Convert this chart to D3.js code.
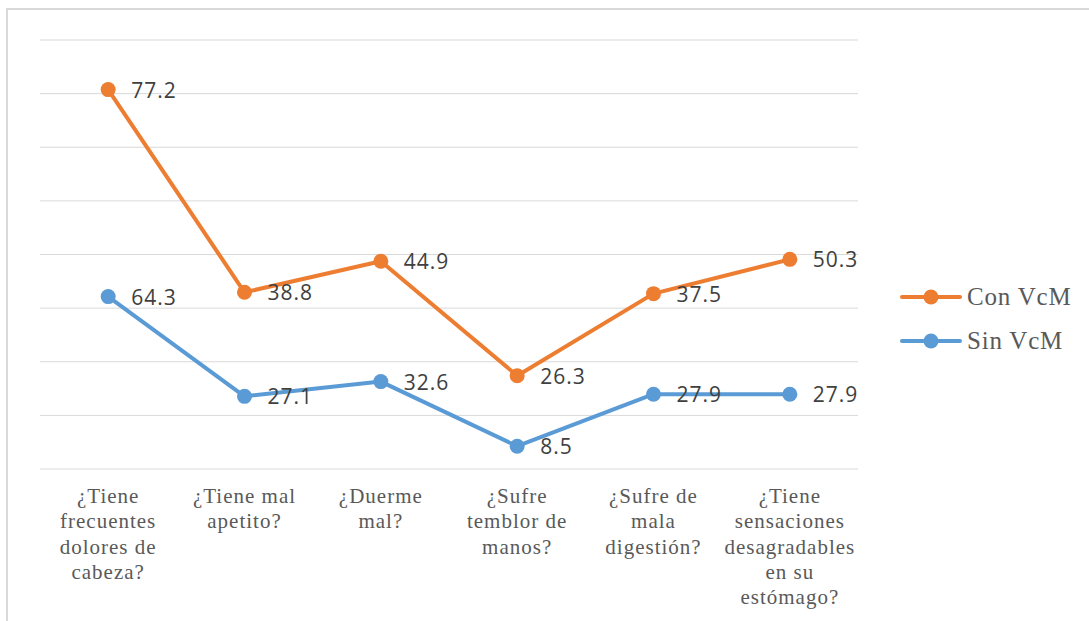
<!DOCTYPE html>
<html><head><meta charset="utf-8">
<script src="https://cdn.jsdelivr.net/npm/d3@7"></script>
<style>body{margin:0;background:#fff;}svg{display:block;}</style>
</head><body>
<script>
const categories = [
  ["¿Tiene","frecuentes","dolores de","cabeza?"],
  ["¿Tiene mal","apetito?"],
  ["¿Duerme","mal?"],
  ["¿Sufre","temblor de","manos?"],
  ["¿Sufre de","mala","digestión?"],
  ["¿Tiene","sensaciones","desagradables","en su","estómago?"]
];
const seriesNames = ["Con VcM","Sin VcM"];
const conVcM = [77.2, 38.8, 44.9, 26.3, 37.5, 50.3];
const sinVcM = [64.3, 27.1, 32.6, 8.5, 27.9, 27.9];
const yTicks = [0,20,40,60,80,100,120,140,160];
const colors = ["#ED7D31","#5B9BD5"];

const W=1089,H=621;
const SERIF="Liberation Serif, serif";
const svg=d3.select("body").append("svg").attr("width",W).attr("height",H);
// outer frame
svg.append("rect").attr("x",7).attr("y",9).attr("width",W+10).attr("height",H+10)
  .attr("fill","none").attr("stroke","#D9D9D9").attr("stroke-width",2);

const x=d3.scaleBand().domain(d3.range(categories.length)).range([40,858]);
const y=d3.scaleLinear().domain([0,160]).range([469,40]);

// gridlines
svg.append("g").selectAll("line").data(yTicks).join("line")
  .attr("x1",40).attr("x2",858).attr("y1",d=>y(d)).attr("y2",d=>y(d))
  .attr("stroke","#D9D9D9").attr("stroke-width",1);

// category labels
const cx=i=>x(i)+x.bandwidth()/2;
const lab=svg.append("g").style("font-family",SERIF)
  .attr("font-size",21).attr("letter-spacing",1).attr("fill","#595959").attr("text-anchor","middle");
categories.forEach((lines,i)=>{
  const t=lab.append("text").attr("x",cx(i)).attr("y",503);
  lines.forEach((l,j)=>t.append("tspan").attr("x",cx(i)).attr("dy",j?25.3:0).text(l));
});

// stacked series
const stackedSin=sinVcM.map(v=>v);
const stackedCon=conVcM.map((v,i)=>v+sinVcM[i]);
const series=[{name:seriesNames[0],vals:conVcM,pos:stackedCon,color:colors[0]},
              {name:seriesNames[1],vals:sinVcM,pos:stackedSin,color:colors[1]}];
const line=d3.line().x((d,i)=>cx(i)).y(d=>y(d));
series.slice().reverse().forEach(s=>{
  const g=svg.append("g");
  g.append("path").attr("d",line(s.pos)).attr("fill","none").attr("stroke",s.color)
    .attr("stroke-width",4).attr("stroke-linejoin","round");
  g.selectAll("circle").data(s.pos).join("circle").attr("cx",(d,i)=>cx(i)).attr("cy",d=>y(d))
    .attr("r",7.5).attr("fill",s.color);
});
series.forEach(s=>{
  svg.append("g").selectAll("text").data(s.pos).join("text")
    .attr("x",(d,i)=>cx(i)+23).attr("y",d=>y(d)+8)
    .style("font-family","Open Sans, DejaVu Sans, sans-serif").attr("font-size",21)
    .attr("letter-spacing",1)
    .attr("fill","#404040").text((d,i)=>s.vals[i].toFixed(1));
});

// legend
const leg=svg.append("g");
series.forEach((s,i)=>{
  const ly=297+i*44;
  leg.append("line").attr("x1",902).attr("x2",960).attr("y1",ly).attr("y2",ly)
    .attr("stroke",s.color).attr("stroke-width",4).attr("stroke-linecap","round");
  leg.append("circle").attr("cx",931).attr("cy",ly).attr("r",7.5).attr("fill",s.color);
  leg.append("text").attr("x",967).attr("y",ly+8).style("font-family",SERIF)
    .attr("font-size",25).attr("letter-spacing",0.8).attr("fill","#595959").text(s.name);
});
</script>
</body></html>
